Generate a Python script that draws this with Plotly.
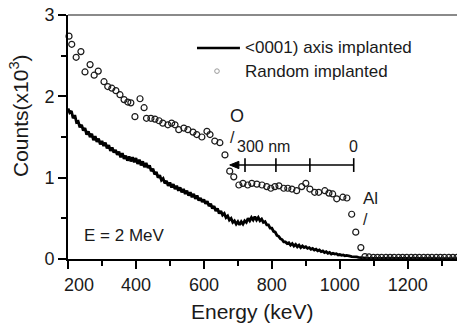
import plotly.graph_objects as go

# ---------------- data ----------------
# Random implanted spectrum (open circles)
rand_energy = [203, 211, 224, 238, 250, 265, 277, 289, 306, 317, 329, 341, 353, 365, 376, 385,
               397, 412, 424, 431, 444, 456, 468, 479, 494, 505, 515, 526, 541, 553, 568, 579,
               594, 609, 618, 632, 647, 662, 676, 688, 703, 715, 729, 741, 756, 771, 785, 797,
               809, 821, 835, 847, 859, 873, 888, 900, 912, 926, 938, 956, 968, 979, 991, 1009,
               1021, 1035, 1047, 1062, 1074, 1086, 1099, 1111, 1123, 1136, 1148, 1160, 1173,
               1185, 1197, 1210, 1222, 1234, 1247, 1259, 1271, 1284, 1296, 1308, 1321, 1333, 1345]
rand_counts = [2.74, 2.64, 2.48, 2.55, 2.30, 2.39, 2.26, 2.31, 2.18, 2.12, 2.10, 2.07, 2.02, 1.96, 1.93, 1.92,
               1.75, 1.97, 1.86, 1.73, 1.73, 1.72, 1.70, 1.67, 1.65, 1.67, 1.65, 1.59, 1.61, 1.59, 1.56, 1.53,
               1.50, 1.57, 1.53, 1.45, 1.43, 1.28, 1.08, 1.01, 0.91, 0.93, 0.91, 0.93, 0.92, 0.91, 0.89, 0.87,
               0.89, 0.90, 0.87, 0.87, 0.86, 0.84, 0.89, 0.93, 0.86, 0.82, 0.82, 0.84, 0.81, 0.80, 0.74, 0.76,
               0.75, 0.55, 0.33, 0.14, 0.03, 0.025, 0.02, 0.02, 0.02, 0.02, 0.02, 0.02, 0.02,
               0.02, 0.02, 0.02, 0.02, 0.02, 0.02, 0.02, 0.02, 0.02, 0.02, 0.02, 0.02, 0.02, 0.02]

# <0001> axis implanted spectrum (black line), 5 keV channels from 200 keV
axis_energy = list(range(200, 1105, 5)) + [1150, 1200, 1250, 1300, 1350]
axis_counts = [
    1.85, 1.80, 1.82, 1.73, 1.77, 1.68, 1.69, 1.62, 1.65, 1.58,
    1.61, 1.53, 1.57, 1.50, 1.54, 1.46, 1.51, 1.44, 1.48, 1.41,
    1.45, 1.39, 1.43, 1.36, 1.40, 1.33, 1.37, 1.31, 1.34, 1.28,
    1.32, 1.25, 1.30, 1.23, 1.27, 1.21, 1.26, 1.20, 1.25, 1.19,
    1.24, 1.17, 1.22, 1.15, 1.20, 1.13, 1.18, 1.12, 1.15, 1.08,
    1.11, 1.04, 1.07, 1.00, 1.03, 0.97, 0.99, 0.93, 0.96, 0.90,
    0.94, 0.88, 0.92, 0.86, 0.90, 0.84, 0.88, 0.82, 0.86, 0.80,
    0.84, 0.78, 0.82, 0.76, 0.80, 0.74, 0.78, 0.72, 0.75, 0.70,
    0.73, 0.68, 0.71, 0.65, 0.68, 0.62, 0.65, 0.59, 0.62, 0.56,
    0.59, 0.54, 0.56, 0.51, 0.53, 0.48, 0.50, 0.45, 0.47, 0.43,
    0.46, 0.42, 0.46, 0.43, 0.47, 0.45, 0.50, 0.47, 0.51, 0.48,
    0.52, 0.48, 0.51, 0.47, 0.49, 0.45, 0.46, 0.42, 0.42, 0.38,
    0.38, 0.34, 0.33, 0.29, 0.28, 0.25, 0.24, 0.21, 0.21, 0.19,
    0.20, 0.17, 0.19, 0.16, 0.18, 0.15, 0.17, 0.14, 0.16, 0.14,
    0.15, 0.13, 0.14, 0.12, 0.13, 0.11, 0.12, 0.10, 0.11, 0.09,
    0.10, 0.08, 0.09, 0.07, 0.08, 0.06, 0.07, 0.06, 0.065, 0.05,
    0.055, 0.045, 0.05, 0.04, 0.045, 0.035, 0.035, 0.03, 0.03, 0.025,
    0.025, 0.02, 0.02, 0.015, 0.015, 0.01, 0.01, 0.01, 0.01, 0.01,
    0.01,
    0.005, 0.005, 0.005, 0.005, 0.005,
]

x_ticks = [200, 400, 600, 800, 1000, 1200]
# the first label ("200") is drawn separately, just right of the y axis as in the original
x_ticktext = ["", "400", "600", "800", "1000", "1200"]
first_x_label = "200"
y_ticks = [0, 1, 2, 3]

legend_labels = ["<0001) axis implanted", "Random implanted"]

# depth scale (energy positions of the scale bar ticks)
depth_ticks = [721, 812, 912, 1041]

FONT = "Liberation Sans, Arial, sans-serif"
TXT = "#1a1a1a"

fig = go.Figure()
fig.add_trace(go.Scatter(x=axis_energy, y=axis_counts, mode="lines",
                         line=dict(color="black", width=2.8), showlegend=False))
fig.add_trace(go.Scatter(x=rand_energy, y=rand_counts, mode="markers",
                         marker=dict(symbol="circle-open", size=6, color="#1a1a1a",
                                     line=dict(width=1.2, color="#1a1a1a")),
                         showlegend=False, cliponaxis=False))

shapes = []
annotations = []

W_plot, H_plot = 457 - 68, 324 - 15 - 65

# top frame line
shapes.append(dict(type="line", xref="paper", yref="paper", x0=0, x1=1, y0=1, y1=1,
                   line=dict(color="#8a8a8a", width=2)))

# manual legend
shapes.append(dict(type="line", xref="paper", yref="paper", x0=0.3316, x1=0.442,
                   y0=0.865, y1=0.865, line=dict(color="black", width=2.6)))
shapes.append(dict(type="circle", xref="paper", yref="paper", xsizemode="pixel", ysizemode="pixel",
                   xanchor=0.383, yanchor=0.770, x0=-2.3, x1=2.3, y0=-2.3, y1=2.3,
                   line=dict(color="#999999", width=1)))
annotations.append(dict(x=0.45, y=0.865, xref="paper", yref="paper", text=legend_labels[0],
                        showarrow=False, xanchor="left", yanchor="middle",
                        font=dict(family=FONT, size=17, color=TXT)))
annotations.append(dict(x=0.45, y=0.770, xref="paper", yref="paper", text=legend_labels[1],
                        showarrow=False, xanchor="left", yanchor="middle",
                        font=dict(family=FONT, size=17, color=TXT)))

# depth scale bar with arrowhead
bar_y = 1.156
shapes.append(dict(type="line", xref="x", yref="y", x0=700, x1=depth_ticks[-1], y0=bar_y, y1=bar_y,
                   line=dict(color="black", width=1.6)))
shapes.append(dict(type="path", xref="x", yref="y",
                   path=f"M 676 {bar_y} L 703 {bar_y + 0.045} L 703 {bar_y - 0.045} Z",
                   fillcolor="black", line=dict(color="black", width=1)))
for t in depth_ticks:
    shapes.append(dict(type="line", xref="x", yref="y", x0=t, x1=t, y0=1.07, y1=1.24,
                       line=dict(color="black", width=1.6)))
annotations.append(dict(x=776, y=1.38, xref="x", yref="y", text="300 nm", showarrow=False,
                        font=dict(family=FONT, size=16, color=TXT)))
annotations.append(dict(x=1040, y=1.38, xref="x", yref="y", text="0", showarrow=False,
                        font=dict(family=FONT, size=16, color=TXT)))

# element labels
annotations.append(dict(x=697, y=1.76, xref="x", yref="y", text="O", showarrow=False,
                        font=dict(family=FONT, size=18, color=TXT)))
annotations.append(dict(x=685, y=1.50, xref="x", yref="y", text="/", showarrow=False,
                        font=dict(family=FONT, size=16, color=TXT)))
annotations.append(dict(x=1090, y=0.75, xref="x", yref="y", text="Al", showarrow=False,
                        font=dict(family=FONT, size=17, color=TXT)))
annotations.append(dict(x=1077, y=0.49, xref="x", yref="y", text="/", showarrow=False,
                        font=dict(family=FONT, size=16, color=TXT)))
annotations.append(dict(x=241, y=0.295, xref="x", yref="y", text="E = 2 MeV", showarrow=False,
                        xanchor="left", font=dict(family=FONT, size=17, color=TXT)))

# first x tick label, offset to the right of the axis corner
annotations.append(dict(x=x_ticks[0], y=(259 - 285) / H_plot, xref="x", yref="paper",
                        text=first_x_label, showarrow=False, xanchor="left", yanchor="middle",
                        xshift=-6, font=dict(family=FONT, size=18, color=TXT)))

# axis titles (placed by pixel positions converted to paper coords)
annotations.append(dict(x=(252 - 68) / W_plot, y=(259 - 311) / H_plot, xref="paper", yref="paper",
                        text="Energy (keV)", showarrow=False, xanchor="center", yanchor="middle",
                        font=dict(family=FONT, size=21, color=TXT)))
annotations.append(dict(x=(19 - 68) / W_plot, y=(259 - 116) / H_plot, xref="paper", yref="paper",
                        text="Counts(x10<sup>3</sup>)", textangle=-90, showarrow=False,
                        xanchor="center", yanchor="middle",
                        font=dict(family=FONT, size=21, color=TXT)))

fig.update_layout(
    width=457, height=324,
    margin=dict(l=68, r=0, t=15, b=65),
    paper_bgcolor="white", plot_bgcolor="white",
    font=dict(family=FONT, size=18, color=TXT),
    shapes=shapes, annotations=annotations,
)

fig.update_xaxes(range=[200, 1345], tickvals=x_ticks, ticktext=x_ticktext, ticks="outside",
                 ticklen=8, tickwidth=2,
                 tickcolor="black", showline=True, linecolor="black", linewidth=2,
                 showgrid=False, zeroline=False,
                 minor=dict(dtick=100, tick0=200, ticks="outside", ticklen=5, tickwidth=2,
                            tickcolor="black", showgrid=False),
                 tickfont=dict(family=FONT, size=18, color=TXT))
fig.update_yaxes(range=[0, 3], tickvals=y_ticks, ticks="outside", ticklen=8, tickwidth=2,
                 tickcolor="black", showline=True, linecolor="black", linewidth=2,
                 showgrid=False, zeroline=False,
                 minor=dict(dtick=0.5, tick0=0, ticks="outside", ticklen=5, tickwidth=2,
                            tickcolor="black", showgrid=False),
                 tickfont=dict(family=FONT, size=18, color=TXT))

fig.write_html("out.html")
